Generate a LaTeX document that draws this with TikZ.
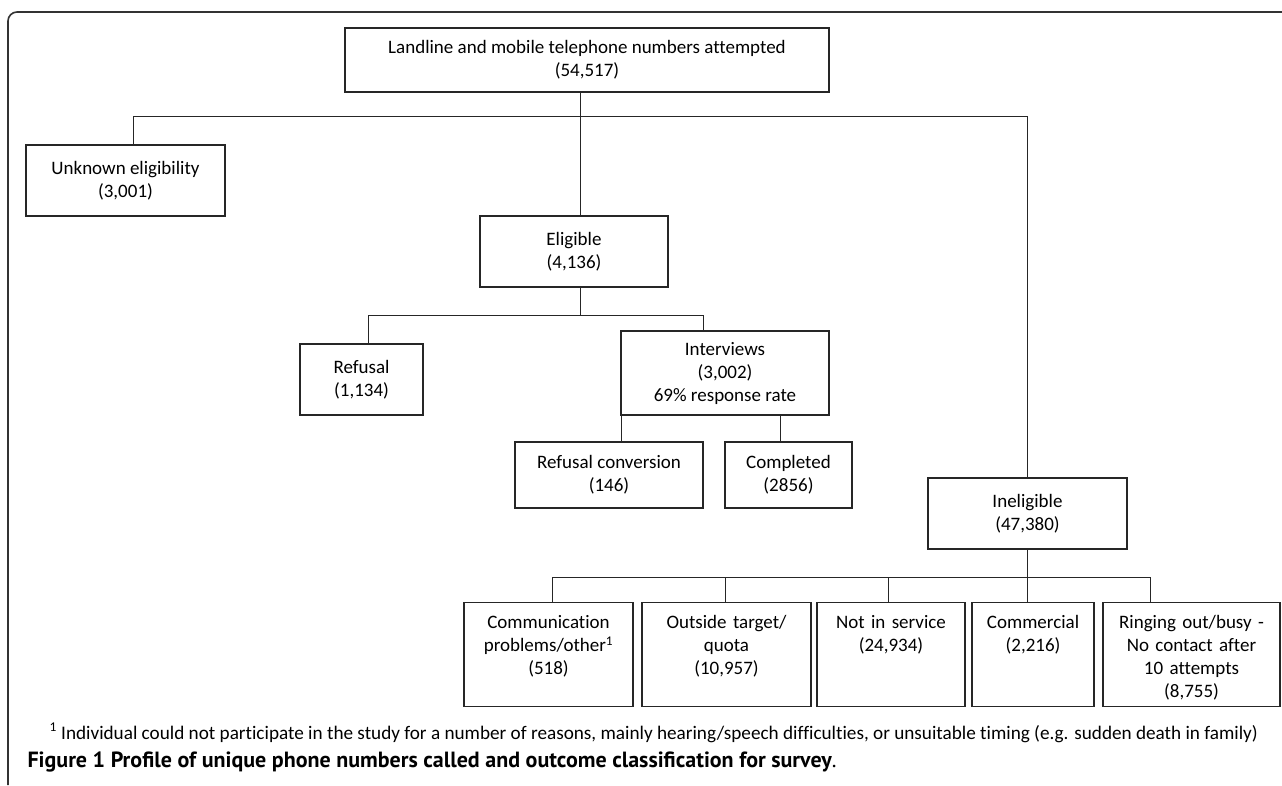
\documentclass[tikz,border=0pt]{standalone}
\usepackage{fontspec}
\setmainfont{Carlito}[Ligatures={NoCommon}]
\newfontfamily\capfont{PT Sans}
\newcommand{\toptext}[1]{\parbox[t][78pt][t]{\linewidth}{\centering #1}}
\begin{document}
\begin{tikzpicture}[x=1pt, y=-1pt,
	box/.style={draw=black!85, line width=1.1pt, align=center, inner sep=0pt, font=\fontsize{19}{23}\selectfont},
	leaf/.style={box, anchor=north, minimum height=104, text width=#1},
	link/.style={draw=black!85, line width=1pt},
	frame/.style={draw=black!80, line width=1.6pt, rounded corners=9}]
	\useasboundingbox (0,0) rectangle (1282,785);
	\draw[frame] (8,785) -- (8,12) -- (1282,12);
	% boxes
	\node[box, minimum width=484, minimum height=64] (total) at (587,60) {Landline and mobile telephone numbers attempted\\(54,517)};
	\node[box, minimum width=199, minimum height=71] (unknown) at (125.5,180.5) {Unknown eligibility\\(3,001)};
	\node[box, minimum width=188, minimum height=71] (eligible) at (574,251.5) {Eligible\\(4,136)};
	\node[box, minimum width=123, minimum height=71] (refusal) at (361.5,379.5) {Refusal\\(1,134)};
	\node[box, minimum width=208, minimum height=84] (interviews) at (725,373) {Interviews\\(3,002)\\69\% response rate};
	\node[box, minimum width=188, minimum height=66] (rconv) at (609,475) {Refusal conversion\\(146)};
	\node[box, minimum width=127, minimum height=66] (completed) at (788.5,475) {Completed\\(2856)};
	\node[box, minimum width=199, minimum height=71] (ineligible) at (1027.5,513.5) {Ineligible\\(47,380)};
	\node[leaf=169] (comm) at (548.5,602) {\toptext{Communication\\problems/other\textsuperscript{1}\\(518)}};
	\node[leaf=169] (outside) at (726.5,602) {\toptext{Outside target/\\quota\\(10,957)}};
	\node[leaf=148] (service) at (891,602) {\toptext{Not in service\\(24,934)}};
	\node[leaf=122] (commercial) at (1033,602) {\toptext{Commercial\\(2,216)}};
	\node[leaf=177] (ringing) at (1191.5,602) {\toptext{Ringing out/busy -\\No contact after\\10 attempts\\(8,755)}};
	% connectors
	\coordinate (split) at (580,116);
	\coordinate (unkdrop) at (133,116);
	\draw[link] (total.south -| split) -- (eligible.north -| split);
	\draw[link] (unknown.north -| unkdrop) -- (unkdrop) -| (ineligible.north);
	\coordinate (elsplit) at (580,315);
	\coordinate (refdrop) at (368,315);
	\coordinate (intdrop) at (703,315);
	\draw[link] (eligible.south -| elsplit) -- (elsplit);
	\draw[link] (refusal.north -| refdrop) -- (refdrop) -- (intdrop) -- (interviews.north -| intdrop);
	\coordinate (rcdrop) at (621,415);
	\coordinate (cpdrop) at (780,415);
	\draw[link] (interviews.south -| rcdrop) -- (rconv.north -| rcdrop);
	\draw[link] (interviews.south -| cpdrop) -- (completed.north -| cpdrop);
	\foreach \name/\xpos in {comm/552, outside/725, service/888, commercial/1027, ringing/1150}
		\coordinate (drop-\name) at (\xpos,577);
	\draw[link] (drop-comm) -- (drop-ringing);
	\draw[link] (ineligible.south -| drop-commercial) -- (drop-commercial);
	\foreach \name in {comm, outside, service, commercial, ringing}
		\draw[link] (drop-\name) -- (\name.north -| drop-\name);
	% footnote and caption
	\node[anchor=west, font=\fontsize{19.2}{23}\selectfont] (note) at (46,733) {\textsuperscript{1} Individual could not participate in the study for a number of reasons, mainly hearing/speech difficulties, or unsuitable timing (e.g. sudden death in family)};
	\node[anchor=west, font=\capfont\fontsize{22}{26}\selectfont] (caption) at (24,762) {\textbf{Figure 1 Profile of unique phone numbers called and outcome classification for survey}.};
\end{tikzpicture}
\end{document}
